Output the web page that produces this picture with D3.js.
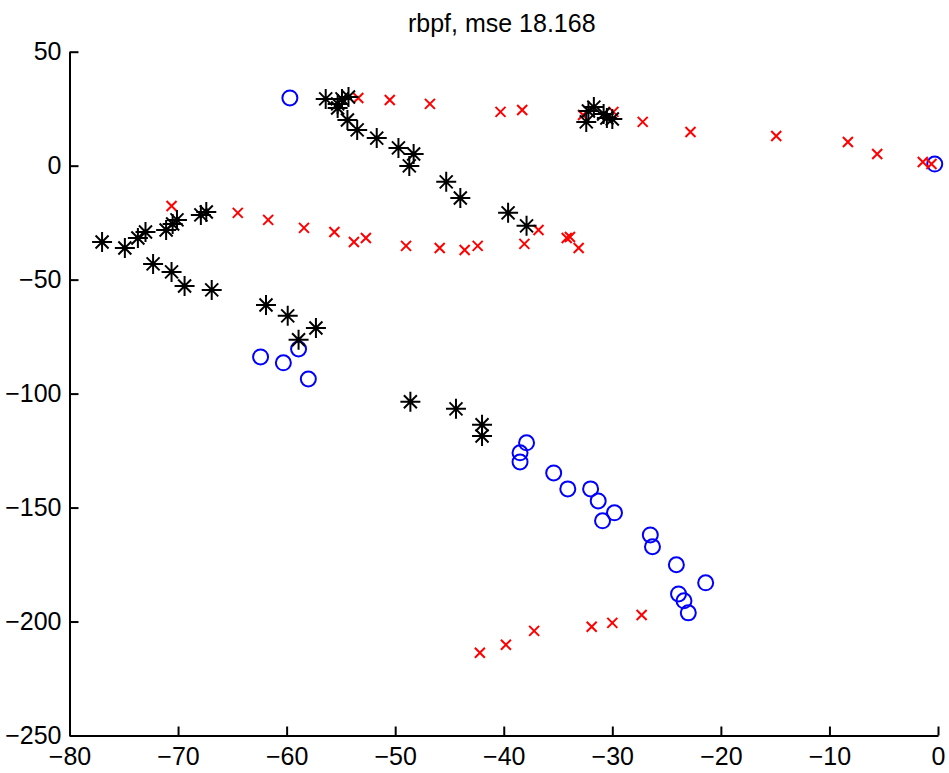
<!DOCTYPE html>
<html>
<head>
<meta charset="utf-8">
<style>
  body { margin: 0; background: #fff; }
  .axis text { font-family: "Liberation Sans", Arial, sans-serif; font-size: 25px; fill: #000; }
  .axis path, .axis line { stroke: #000; stroke-width: 2; }
  .title { font-family: "Liberation Sans", Arial, sans-serif; font-size: 25px; }
</style>
</head>
<body>
<svg width="949" height="773"></svg>
<script src="https://d3js.org/d3.v7.min.js"></script>
<script>
var titleText = "rbpf, mse 18.168";
var xTicks = [-80, -70, -60, -50, -40, -30, -20, -10, 0];
var yTicks = [50, 0, -50, -100, -150, -200, -250];

// blue circles (true track)
var trueX = [-59.7, -0.3, -62.4, -60.3, -58.9, -58.0, -37.9, -38.5, -38.5, -35.4, -34.1,
             -32.0, -31.3, -30.9, -29.8, -26.5, -26.3, -24.1, -21.4, -23.9, -23.4, -23.0];
var trueY = [29.7, 0.7, -83.9, -86.5, -80.4, -93.6, -121.6, -126.0, -130.0, -134.8, -141.8,
             -141.8, -147.1, -155.8, -152.3, -162.0, -167.2, -175.1, -183.0, -187.9, -190.9, -196.2];

// red crosses (observations)
var obsX = [-53.4, -50.5, -46.8, -40.3, -38.3, -32.7, -29.9, -27.2, -22.8, -14.9, -8.3, -5.6, -1.4, -0.6,
            -70.6, -64.5, -61.7, -58.4, -55.6, -53.8, -52.7, -49.0, -45.9, -43.6, -42.4, -38.1,
            -36.8, -34.2, -33.9, -33.1,
            -42.2, -39.8, -37.2, -31.9, -30.0, -27.3];
var obsY = [29.7, 28.8, 27.1, 23.6, 24.4, 22.2, 23.6, 19.2, 14.8, 13.0, 10.4, 5.1, 1.6, 0.7,
            -17.7, -20.7, -23.8, -27.3, -29.1, -33.5, -31.7, -35.2, -36.1, -37.0, -35.2, -34.3,
            -28.2, -31.7, -31.3, -36.1,
            -213.7, -210.2, -204.1, -202.3, -200.6, -197.1];

// black asterisks (filter estimates)
var estX = [-56.4, -55.3, -54.9, -54.3, -55.3, -54.4, -53.5, -51.7, -49.7, -48.3, -48.7, -45.3, -44.0,
            -39.6, -37.9, -32.2, -31.7, -32.4, -30.8, -30.5, -30.0,
            -77.0, -74.9, -73.7, -73.0, -71.1, -70.5, -70.1, -67.9, -67.4,
            -72.3, -70.6, -69.4, -66.9, -61.9, -59.9, -57.3, -58.9,
            -48.6, -44.4, -42.0, -42.0];
var estY = [29.3, 27.1, 29.3, 30.1, 25.3, 20.0, 15.7, 12.1, 7.8, 5.1, -0.1, -7.1, -14.2,
            -20.7, -26.4, 24.0, 25.7, 19.2, 22.7, 20.9, 20.5,
            -33.5, -36.1, -31.7, -29.1, -28.2, -25.6, -23.8, -21.6, -20.3,
            -43.1, -46.6, -52.8, -54.5, -61.1, -65.9, -71.2, -76.4,
            -103.6, -106.7, -113.7, -118.6];

var svg = d3.select("svg");
var x = d3.scaleLinear().domain([-80, 0]).range([69.5, 938]);
var y = d3.scaleLinear().domain([-250, 50]).range([735.5, 51.7]);

svg.append("text")
    .attr("class", "title")
    .attr("x", (x(-80) + x(0)) / 2 - 2)
    .attr("y", 32)
    .attr("text-anchor", "middle")
    .text(titleText);

svg.append("g")
    .attr("class", "axis")
    .attr("transform", "translate(0," + y(-250) + ")")
    .call(d3.axisBottom(x).tickValues(xTicks).tickSizeInner(-9).tickSizeOuter(0).tickPadding(12));

svg.append("g")
    .attr("class", "axis")
    .attr("transform", "translate(" + x(-80) + ",0)")
    .call(d3.axisLeft(y).tickValues(yTicks).tickSizeInner(-9).tickSizeOuter(0).tickPadding(8));

var trueData = trueX.map(function(v, i) { return [v, trueY[i]]; });
var obsData = obsX.map(function(v, i) { return [v, obsY[i]]; });
var estData = estX.map(function(v, i) { return [v, estY[i]]; });

svg.append("g").selectAll("circle")
    .data(trueData)
    .enter().append("circle")
      .attr("cx", function(d) { return x(d[0]); })
      .attr("cy", function(d) { return y(d[1]); })
      .attr("r", 7.5)
      .attr("fill", "none")
      .attr("stroke", "#0000ff")
      .attr("stroke-width", 2);

var xs = 5;
svg.append("g").selectAll("path")
    .data(obsData)
    .enter().append("path")
      .attr("transform", function(d) { return "translate(" + x(d[0]) + "," + y(d[1]) + ")"; })
      .attr("d", "M" + (-xs) + "," + (-xs) + "L" + xs + "," + xs + "M" + (-xs) + "," + xs + "L" + xs + "," + (-xs))
      .attr("stroke", "#ff0000")
      .attr("stroke-width", 2)
      .attr("fill", "none");

var p = 10, q = 6.5;
svg.append("g").selectAll("path")
    .data(estData)
    .enter().append("path")
      .attr("transform", function(d) { return "translate(" + x(d[0]) + "," + y(d[1]) + ")"; })
      .attr("d", "M" + (-p) + ",0L" + p + ",0M0," + (-p) + "L0," + p +
                 "M" + (-q) + "," + (-q) + "L" + q + "," + q + "M" + (-q) + "," + q + "L" + q + "," + (-q))
      .attr("stroke", "#000")
      .attr("stroke-width", 2)
      .attr("fill", "none");
</script>
</body>
</html>
